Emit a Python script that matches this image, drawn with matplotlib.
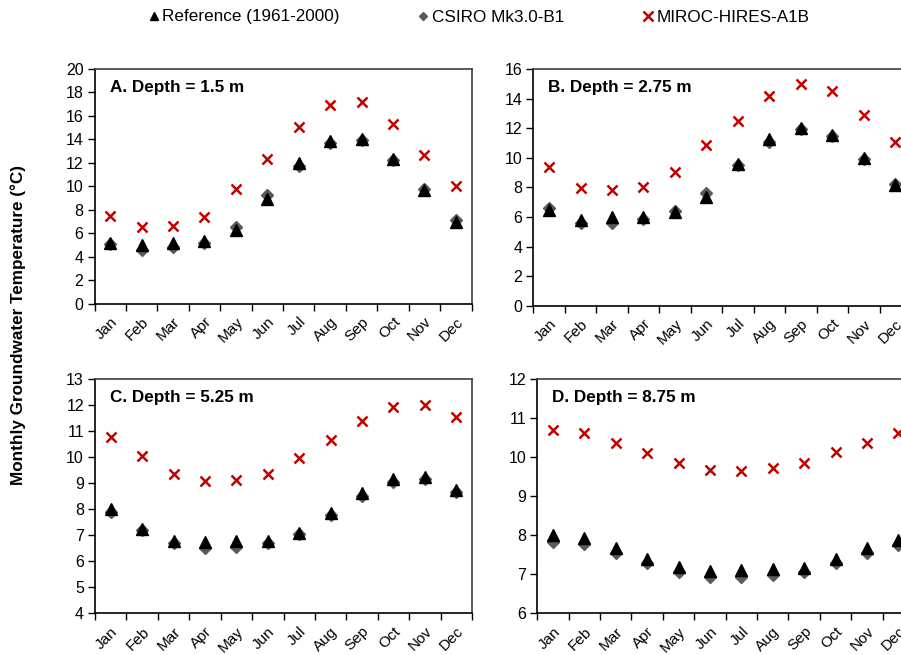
import matplotlib
matplotlib.use("Agg")
import matplotlib.pyplot as plt
from matplotlib.lines import Line2D
import numpy as np

plt.rcParams['font.family'] = ['Liberation Sans', 'DejaVu Sans']

months = ["Jan", "Feb", "Mar", "Apr", "May", "Jun", "Jul", "Aug", "Sep", "Oct", "Nov", "Dec"]
series_names = ["Reference (1961-2000)", "CSIRO Mk3.0-B1", "MIROC-HIRES-A1B"]
panel_titles = ["A. Depth = 1.5 m", "B. Depth = 2.75 m", "C. Depth = 5.25 m", "D. Depth = 8.75 m"]

# Panel A: depth 1.5 m
ref_a = [5.2, 5.0, 5.2, 5.3, 6.25, 8.95, 11.95, 13.9, 14.05, 12.3, 9.65, 6.95]
csiro_a = [5.1, 4.55, 4.8, 5.2, 6.55, 9.25, 11.75, 13.65, 13.95, 12.2, 9.8, 7.1]
miroc_a = [7.5, 6.55, 6.6, 7.4, 9.75, 12.3, 15.05, 16.95, 17.2, 15.35, 12.7, 10.05]

# Panel B: depth 2.75 m
ref_b = [6.47, 5.8, 6.02, 6.02, 6.3, 7.37, 9.55, 11.3, 12.03, 11.54, 9.96, 8.15]
csiro_b = [6.58, 5.62, 5.57, 5.86, 6.4, 7.64, 9.51, 11.09, 11.94, 11.49, 9.92, 8.22]
miroc_b = [9.35, 7.95, 7.84, 8.05, 9.05, 10.84, 12.48, 14.2, 15.0, 14.53, 12.88, 11.04]

# Panel C: depth 5.25 m
ref_c = [8.01, 7.24, 6.78, 6.75, 6.76, 6.78, 7.07, 7.84, 8.61, 9.15, 9.22, 8.74]
csiro_c = [7.9, 7.2, 6.69, 6.5, 6.56, 6.69, 7.05, 7.78, 8.5, 9.06, 9.15, 8.66]
miroc_c = [10.79, 10.06, 9.35, 9.1, 9.12, 9.35, 9.95, 10.66, 11.4, 11.94, 11.99, 11.53]

# Panel D: depth 8.75 m
ref_d = [8.0, 7.92, 7.68, 7.39, 7.19, 7.09, 7.12, 7.13, 7.15, 7.39, 7.66, 7.88]
csiro_d = [7.83, 7.77, 7.54, 7.28, 7.07, 6.93, 6.94, 6.98, 7.07, 7.28, 7.54, 7.75]
miroc_d = [10.69, 10.61, 10.35, 10.1, 9.84, 9.67, 9.65, 9.71, 9.86, 10.12, 10.37, 10.61]

ylims = [(0, 20, 2), (0, 16, 2), (4, 13, 1), (6, 12, 1)]
panels = [(ref_a, csiro_a, miroc_a), (ref_b, csiro_b, miroc_b),
          (ref_c, csiro_c, miroc_c), (ref_d, csiro_d, miroc_d)]

W, H = 901, 655
fig = plt.figure(figsize=(W / 100, H / 100), dpi=100)

# axes boxes in pixels: left, top, right, bottom
boxes = [(94.5, 69, 471.5, 303.5), (533.3, 69, 911, 305.7),
         (95, 379, 472, 613.3), (537.3, 379, 914, 613.3)]

REF_C = "black"
CSIRO_C = "#5a5a5a"
MIROC_C = "#c00000"

for i, (box, (ref, cs, mi), (y0, y1, ys), title) in enumerate(zip(boxes, panels, ylims, panel_titles)):
    l, t, r, b = box
    ax = fig.add_axes([l / W, 1 - b / H, (r - l) / W, (b - t) / H])
    x = np.arange(len(months))
    ax.plot(x, cs, linestyle='none', marker='D', ms=6.3, color=CSIRO_C, mec=CSIRO_C, zorder=2)
    ax.plot(x, ref, linestyle='none', marker='^', ms=8, color=REF_C, mec=REF_C, zorder=3)
    ax.plot(x, mi, linestyle='none', marker='x', ms=7, mew=1.8, color=MIROC_C, zorder=4)
    ax.set_xlim(-0.5, len(months) - 0.5)
    ax.set_ylim(y0, y1)
    ax.set_yticks(np.arange(y0, y1 + ys / 2, ys))
    ax.set_yticklabels([f"{v:g}" for v in np.arange(y0, y1 + ys / 2, ys)])
    ax.set_xticks(x)
    ax.set_xticklabels(months, rotation=45, ha='right', va='top', rotation_mode='anchor')
    ax.set_xticks(np.arange(-0.5, len(months)), minor=True)
    ax.tick_params(axis='x', which='major', length=0, pad=8, labelsize=11)
    ax.tick_params(axis='x', which='minor', length=5, width=1, direction='out')
    ax.tick_params(axis='y', length=5, width=1, direction='out', labelsize=11.5, pad=3)
    for s in ['left', 'bottom']:
        ax.spines[s].set_color('black')
        ax.spines[s].set_linewidth(1.2)
    for s in ['top', 'right']:
        ax.spines[s].set_color('#404040')
        ax.spines[s].set_linewidth(1.2)
    ax.text(0.04, 0.92, title, transform=ax.transAxes, fontsize=12.3, fontweight='bold',
            ha='left', va='center')

fig.text(18 / W, 1 - 325 / H, "Monthly Groundwater Temperature (°C)", rotation=90,
         fontsize=12.3, fontweight='bold', ha='center', va='center')

handles = [
    Line2D([], [], linestyle='none', marker='^', ms=6, color=REF_C),
    Line2D([], [], linestyle='none', marker='D', ms=4, color=CSIRO_C),
    Line2D([], [], linestyle='none', marker='x', ms=7, mew=1.8, color=MIROC_C),
]
fig.legend(handles, series_names, loc='center', bbox_to_anchor=(479 / W, 1 - 17 / H),
           ncol=3, frameon=False, fontsize=12.3, handlelength=0.6, handletextpad=0.2,
           columnspacing=4.6)

fig.savefig("out.png", dpi=100)
